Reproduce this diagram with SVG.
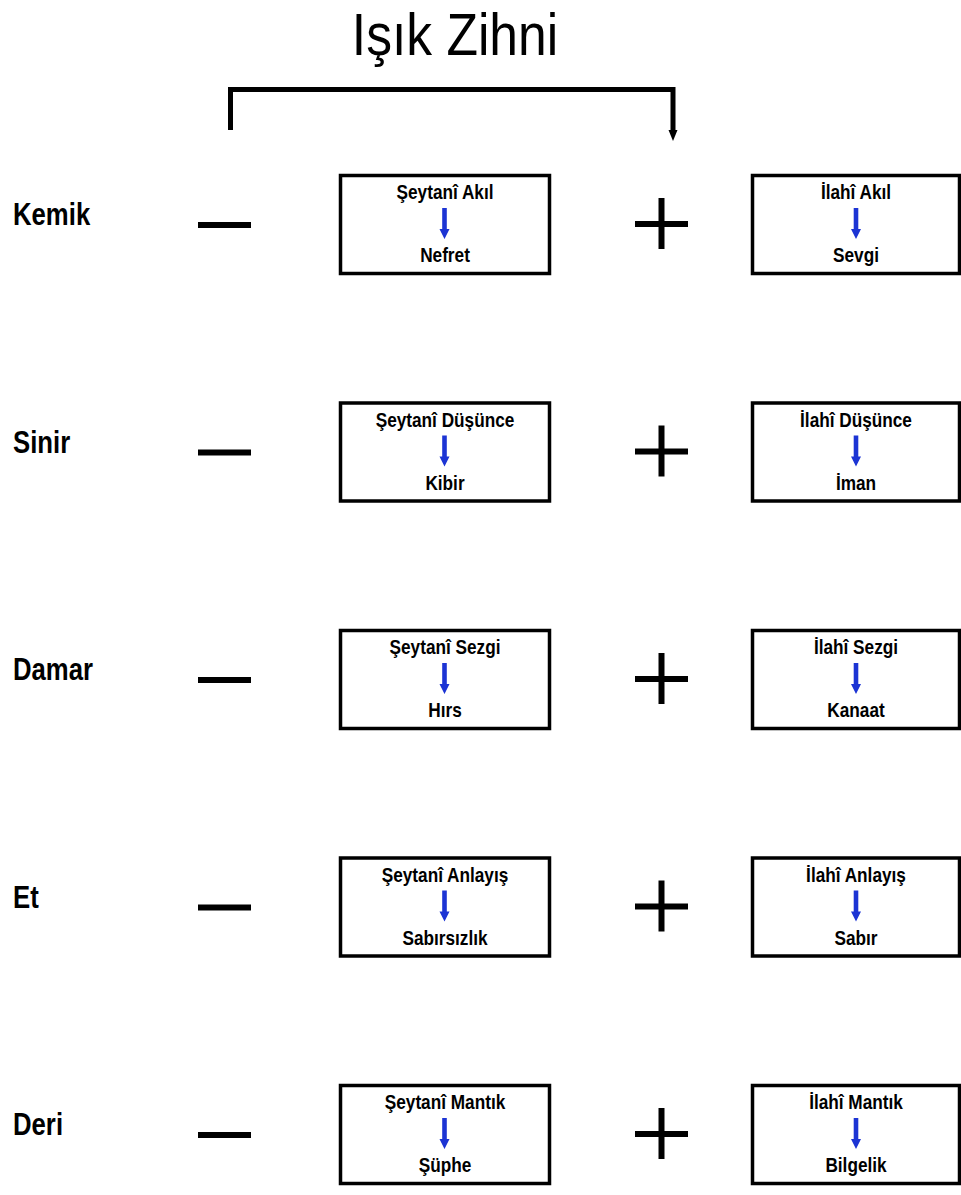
<svg xmlns="http://www.w3.org/2000/svg" width="961" height="1195" viewBox="0 0 961 1195">
  <style>
    text { font-family: "Liberation Sans", Arial, sans-serif; fill: #000; }
    .title { font-size: 60px; font-weight: normal; }
    .side { font-size: 31px; font-weight: bold; }
    .bt { font-size: 21px; font-weight: bold; text-anchor: middle; }
    .box { fill: #fff; stroke: #000; stroke-width: 3.5; }
    .sign { stroke: #000; stroke-width: 6; fill: none; }
    .flow { fill: #1c34d4; }
    .bracket { stroke: #000; stroke-width: 5; fill: none; }
  </style>
  <defs>
    <!-- one row: minus, plus -->
    <g id="signs">
      <line class="sign" x1="198" y1="225" x2="251" y2="225"/>
      <line class="sign" x1="635" y1="224" x2="688" y2="224"/>
      <line class="sign" x1="661.5" y1="198" x2="661.5" y2="249"/>
    </g>
    <!-- short blue down arrow inside a box, centred on x=0 -->
    <path id="downArrow" class="flow" d="M-2.3,208 H2.3 V229 H5 L0,239 L-5,229 H-2.3 Z"/>
  </defs>

  <!-- heading -->
  <g id="heading">
    <text class="title" transform="translate(455,55) scale(0.86,1)" text-anchor="middle">Işık Zihni</text>
  </g>

  <!-- bracket from the left column over to the plus column -->
  <g id="connectors">
    <path class="bracket" d="M230.5,130 V89.5 H673 V131"/>
    <path d="M668.5,130 L677.5,130 L673,141 Z" fill="#000"/>
  </g>

  <!-- row 1 -->
  <g id="row-kemik">
    <text class="side" transform="translate(13,225) scale(0.83,1)">Kemik</text>
    <use href="#signs"/>
    <g id="node-seytani-akil">
      <rect class="box" x="340.5" y="175.5" width="209" height="98"/>
      <text class="bt" transform="translate(445,199) scale(0.82,1)">Şeytanî Akıl</text>
      <use href="#downArrow" x="444.5"/>
      <text class="bt" transform="translate(445,262) scale(0.82,1)">Nefret</text>
    </g>
    <g id="node-ilahi-akil">
      <rect class="box" x="752.5" y="175.5" width="207" height="98"/>
      <text class="bt" transform="translate(856,199) scale(0.82,1)">İlahî Akıl</text>
      <use href="#downArrow" x="856"/>
      <text class="bt" transform="translate(856,262) scale(0.82,1)">Sevgi</text>
    </g>
  </g>

  <!-- row 2 -->
  <g id="row-sinir" transform="translate(0,227.5)">
    <text class="side" transform="translate(13,225) scale(0.83,1)">Sinir</text>
    <use href="#signs"/>
    <g id="node-seytani-dusunce">
      <rect class="box" x="340.5" y="175.5" width="209" height="98"/>
      <text class="bt" transform="translate(445,199) scale(0.82,1)">Şeytanî Düşünce</text>
      <use href="#downArrow" x="444.5"/>
      <text class="bt" transform="translate(445,262) scale(0.82,1)">Kibir</text>
    </g>
    <g id="node-ilahi-dusunce">
      <rect class="box" x="752.5" y="175.5" width="207" height="98"/>
      <text class="bt" transform="translate(856,199) scale(0.82,1)">İlahî Düşünce</text>
      <use href="#downArrow" x="856"/>
      <text class="bt" transform="translate(856,262) scale(0.82,1)">İman</text>
    </g>
  </g>

  <!-- row 3 -->
  <g id="row-damar" transform="translate(0,455)">
    <text class="side" transform="translate(13,225) scale(0.83,1)">Damar</text>
    <use href="#signs"/>
    <g id="node-seytani-sezgi">
      <rect class="box" x="340.5" y="175.5" width="209" height="98"/>
      <text class="bt" transform="translate(445,199) scale(0.82,1)">Şeytanî Sezgi</text>
      <use href="#downArrow" x="444.5"/>
      <text class="bt" transform="translate(445,262) scale(0.82,1)">Hırs</text>
    </g>
    <g id="node-ilahi-sezgi">
      <rect class="box" x="752.5" y="175.5" width="207" height="98"/>
      <text class="bt" transform="translate(856,199) scale(0.82,1)">İlahî Sezgi</text>
      <use href="#downArrow" x="856"/>
      <text class="bt" transform="translate(856,262) scale(0.82,1)">Kanaat</text>
    </g>
  </g>

  <!-- row 4 -->
  <g id="row-et" transform="translate(0,682.5)">
    <text class="side" transform="translate(13,225) scale(0.83,1)">Et</text>
    <use href="#signs"/>
    <g id="node-seytani-anlayis">
      <rect class="box" x="340.5" y="175.5" width="209" height="98"/>
      <text class="bt" transform="translate(445,199) scale(0.82,1)">Şeytanî Anlayış</text>
      <use href="#downArrow" x="444.5"/>
      <text class="bt" transform="translate(445,262) scale(0.82,1)">Sabırsızlık</text>
    </g>
    <g id="node-ilahi-anlayis">
      <rect class="box" x="752.5" y="175.5" width="207" height="98"/>
      <text class="bt" transform="translate(856,199) scale(0.82,1)">İlahî Anlayış</text>
      <use href="#downArrow" x="856"/>
      <text class="bt" transform="translate(856,262) scale(0.82,1)">Sabır</text>
    </g>
  </g>

  <!-- row 5 -->
  <g id="row-deri" transform="translate(0,910)">
    <text class="side" transform="translate(13,225) scale(0.83,1)">Deri</text>
    <use href="#signs"/>
    <g id="node-seytani-mantik">
      <rect class="box" x="340.5" y="175.5" width="209" height="98"/>
      <text class="bt" transform="translate(445,199) scale(0.82,1)">Şeytanî Mantık</text>
      <use href="#downArrow" x="444.5"/>
      <text class="bt" transform="translate(445,262) scale(0.82,1)">Şüphe</text>
    </g>
    <g id="node-ilahi-mantik">
      <rect class="box" x="752.5" y="175.5" width="207" height="98"/>
      <text class="bt" transform="translate(856,199) scale(0.82,1)">İlahî Mantık</text>
      <use href="#downArrow" x="856"/>
      <text class="bt" transform="translate(856,262) scale(0.82,1)">Bilgelik</text>
    </g>
  </g>
</svg>
